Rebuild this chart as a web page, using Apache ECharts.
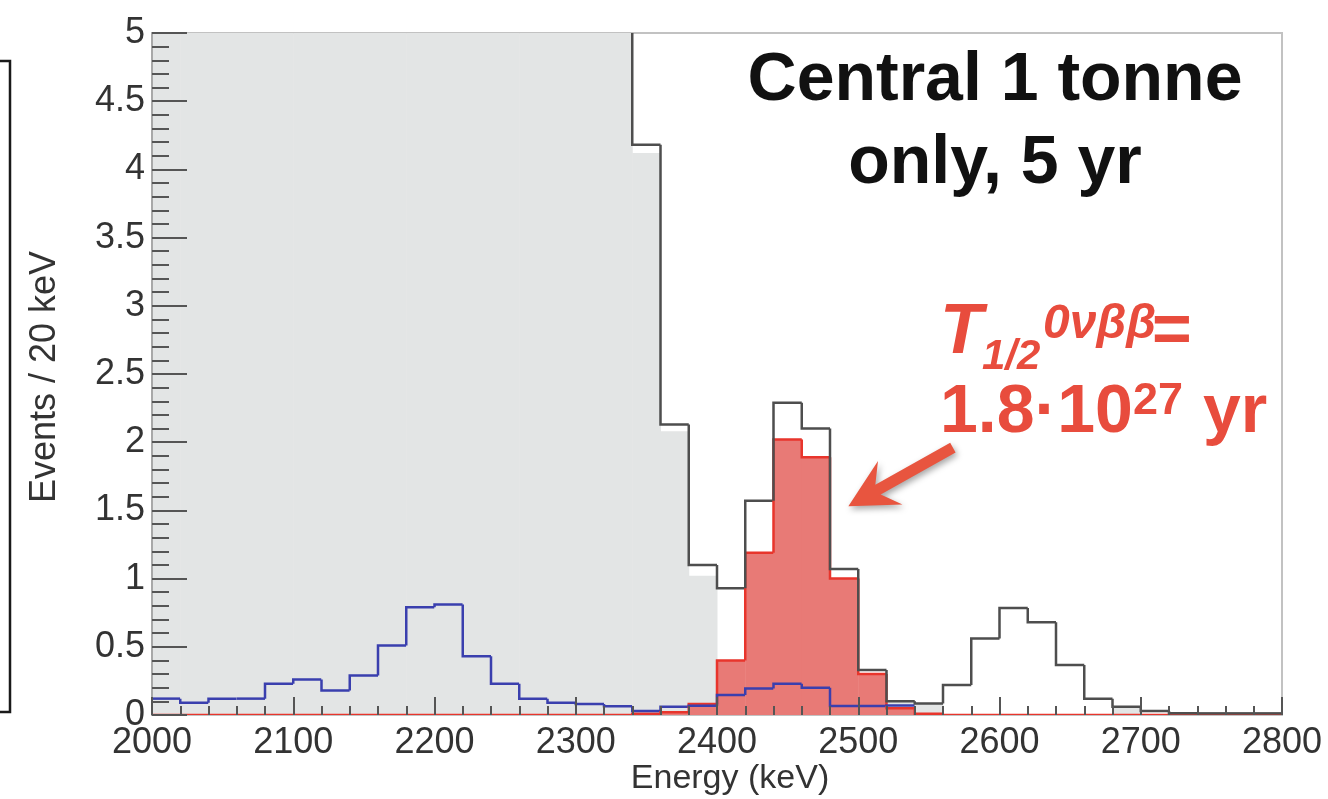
<!DOCTYPE html>
<html>
<head>
<meta charset="utf-8">
<script src="https://cdn.jsdelivr.net/npm/echarts@6/dist/echarts.min.js"></script>
<style>
  html, body { margin: 0; padding: 0; background: #fff; }
  #chart { width: 1328px; height: 799px; background: #fff; }
</style>
</head>
<body>
<div id="chart"></div>
<script>
// Left edges of the 20 keV energy bins (keV); the last bin closes at 2800.
const binEdges = [2000, 2020, 2040, 2060, 2080, 2100, 2120, 2140, 2160, 2180,
                  2200, 2220, 2240, 2260, 2280, 2300, 2320, 2340, 2360, 2380,
                  2400, 2420, 2440, 2460, 2480, 2500, 2520, 2540, 2560, 2580,
                  2600, 2620, 2640, 2660, 2680, 2700, 2720, 2740, 2760, 2780];
const binEnd = 2800;

// 2νββ background (grey fill); runs far off scale below 2340 keV
const twoNuBB = [58.0, 51.5, 45.6, 40.2, 35.3, 30.9, 26.9, 23.3, 20.1, 17.2,
                 14.6, 12.3, 10.3, 8.6, 7.1, 5.9, 5.2, 4.12, 2.08, 1.02,
                 0, 0, 0, 0, 0, 0, 0.095, 0.08, 0, 0,
                 0, 0, 0, 0, 0.055, 0, 0, 0, 0, 0];

// 0νββ signal for T1/2 = 1.8e27 yr (red fill)
const signal = [0, 0, 0, 0, 0, 0, 0, 0, 0, 0,
                0, 0, 0, 0, 0, 0, 0, 0.01, 0.02, 0.08,
                0.40, 1.19, 2.02, 1.89, 1.00, 0.30, 0.05, 0.01, 0, 0,
                0, 0, 0, 0, 0, 0, 0, 0, 0, 0];

// Other background component (blue outline), ends at 2540 keV
const otherBkg = [0.12, 0.09, 0.12, 0.12, 0.23, 0.26, 0.18, 0.29, 0.51, 0.79,
                  0.81, 0.43, 0.23, 0.12, 0.09, 0.08, 0.065, 0.03, 0.06, 0.068,
                  0.146, 0.195, 0.23, 0.20, 0.066, 0.066, 0.07, null, null, null,
                  null, null, null, null, null, null, null, null, null, null];

// Sum of all components (dark outline)
const total = [58.1, 51.6, 45.7, 40.3, 35.5, 31.2, 27.1, 23.6, 20.6, 18.0,
               15.4, 12.7, 10.5, 8.7, 7.2, 6.0, 5.3, 4.18, 2.13, 1.10,
               0.93, 1.57, 2.29, 2.10, 1.07, 0.33, 0.10, 0.085, 0.22, 0.56,
               0.785, 0.68, 0.366, 0.12, 0.06, 0.03, 0.012, 0.012, 0.012, 0.012];

const yTicks = { min: 0, max: 5, step: 0.5 };
const xTicks = { min: 2000, max: 2800, step: 100 };

// Arrow from the label down to the signal peak, in (keV, events)
const arrowTail = [2567, 1.96];
const arrowTip = [2493, 1.53];

const FONT = "'Liberation Sans', Arial, Helvetica, sans-serif";
const RED = '#e84c3d';

const rightEdge = i => (i + 1 < binEdges.length ? binEdges[i + 1] : binEnd);
const binRows = binEdges.map((e, i) => [e, rightEdge(i), twoNuBB[i], signal[i]]);

// Filled bin, cut at the top of the plotting area
function fillRect(api, i, value, color, top) {
  if (!(value > 0)) return null;
  const pBase = api.coord([binEdges[i], 0]);
  const pTop = api.coord([rightEdge(i), value]);
  const y = Math.max(pTop[1], top);
  return {
    type: 'rect',
    shape: { x: pBase[0], y: y, width: pTop[0] - pBase[0] + 0.5, height: pBase[1] - y },
    style: { fill: color }
  };
}

// Outline of one bin: riser on the left edge from the previous bin, then the top
function stepSegment(api, values, i, color) {
  const v = values[i];
  if (v === null || v === undefined) return null;
  const prev = i > 0 ? values[i - 1] : null;
  const pts = [];
  if (prev !== null && prev !== undefined) pts.push(api.coord([binEdges[i], prev]));
  pts.push(api.coord([binEdges[i], v]), api.coord([rightEdge(i), v]));
  return {
    type: 'polyline',
    shape: { points: pts },
    style: { stroke: color, lineWidth: 2.5, fill: null, lineJoin: 'miter', lineCap: 'butt' }
  };
}

// Block arrow with a swept-back head, from tail to tip (pixels)
function arrowShape(tail, tip) {
  const dx = tip[0] - tail[0], dy = tip[1] - tail[1];
  const len = Math.hypot(dx, dy);
  const ux = dx / len, uy = dy / len;
  const nx = -uy, ny = ux;
  const shaftHalf = 5.5, headLen = 48, headHalf = 25, neck = 34;
  const P = (along, side) => [tip[0] - ux * along + nx * side, tip[1] - uy * along + ny * side];
  return [
    [tail[0] + nx * shaftHalf, tail[1] + ny * shaftHalf],
    P(neck, shaftHalf),
    P(headLen, headHalf),
    [tip[0], tip[1]],
    P(headLen, -headHalf),
    P(neck, -shaftHalf),
    [tail[0] - nx * shaftHalf, tail[1] - ny * shaftHalf]
  ];
}

function txt(text, x, y, size, opts) {
  return {
    type: 'text', x: x, y: y, z: 50,
    style: Object.assign({
      text: text, fontSize: size, fontFamily: FONT, fontWeight: 'bold',
      fill: '#111', align: 'left', verticalAlign: 'middle'
    }, opts || {})
  };
}

const chart = echarts.init(document.getElementById('chart'), null, { renderer: 'canvas' });

chart.setOption({
  animation: false,
  grid: {
    left: 152, right: 46, top: 33, bottom: 84,
    show: true, borderColor: '#c2c2c2', borderWidth: 2, backgroundColor: 'transparent'
  },
  xAxis: {
    type: 'value',
    min: xTicks.min, max: xTicks.max, interval: xTicks.step,
    z: 10,
    axisLine: { show: false },
    splitLine: { show: false },
    axisTick: { inside: true, length: 18, lineStyle: { color: '#555', width: 2 } },
    minorTick: { show: true, splitNumber: 5, length: 9, lineStyle: { color: '#555', width: 2 } },
    axisLabel: { fontSize: 36, color: '#333', margin: 10, fontFamily: FONT, formatter: v => String(v) }
  },
  yAxis: {
    type: 'value',
    min: yTicks.min, max: yTicks.max, interval: yTicks.step,
    z: 10,
    axisLine: { show: true, lineStyle: { color: '#a8a8a8', width: 2 } },
    splitLine: { show: false },
    axisTick: { inside: true, length: 35, lineStyle: { color: '#555', width: 2 } },
    minorTick: { show: true, splitNumber: 5, length: 17, lineStyle: { color: '#555', width: 2 } },
    axisLabel: { fontSize: 36, color: '#333', margin: 7, fontFamily: FONT }
  },
  series: [
    {
      // all four histograms, bin by bin: fills first, outlines over them
      name: 'histograms', type: 'custom', z: 3, clip: true,
      data: binRows,
      encode: { x: [0, 1], y: [2, 3] },
      renderItem: function (params, api) {
        const i = params.dataIndex;
        const top = params.coordSys.y;
        return {
          type: 'group',
          children: [
            fillRect(api, i, twoNuBB[i], '#e3e5e5', top),
            fillRect(api, i, signal[i], '#e87a76', top),
            stepSegment(api, signal, i, '#e8352c'),
            stepSegment(api, otherBkg, i, '#3a3fae'),
            stepSegment(api, total, i, '#4e4e4e')
          ].filter(Boolean)
        };
      }
    },
    {
      name: 'arrow', type: 'custom', z: 20, clip: false,
      data: [[arrowTail[0], arrowTail[1], arrowTip[0], arrowTip[1]]],
      encode: { x: [0, 2], y: [1, 3] },
      renderItem: function (params, api) {
        const tail = api.coord([api.value(0), api.value(1)]);
        const tip = api.coord([api.value(2), api.value(3)]);
        return {
          type: 'polygon',
          shape: { points: arrowShape(tail, tip) },
          style: {
            fill: '#e8553f',
            shadowBlur: 6, shadowColor: 'rgba(0,0,0,0.35)', shadowOffsetX: 2, shadowOffsetY: 3
          }
        };
      }
    }
  ],
  graphic: [
    // axis titles
    txt('Energy (keV)', 730, 779, 34, { fontWeight: 'normal', fill: '#333', align: 'center' }),
    {
      type: 'text', x: 45, y: 377, rotation: Math.PI / 2, z: 50,
      style: { text: 'Events / 20 keV', fontSize: 36, fontFamily: FONT, fill: '#333', align: 'center', verticalAlign: 'middle' }
    },
    // axis title of the panel above, cut by the top edge
    txt('Energy (keV)', 714, -1, 34, { fontWeight: 'normal', fill: '#333', align: 'center', verticalAlign: 'bottom' }),
    // frame edge of the neighbouring panel on the left
    {
      type: 'polyline', z: 50,
      shape: { points: [[0, 61], [10, 61], [10, 712], [0, 712]] },
      style: { stroke: '#1a1a1a', lineWidth: 2.5, fill: null }
    },
    txt('Central 1 tonne', 995, 81, 68, { align: 'center' }),
    txt('only, 5 yr', 995, 164, 68, { align: 'center' }),
    txt('T', 940, 334, 70, { fill: RED, fontStyle: 'italic' }),
    txt('1/2', 982, 357, 42, { fill: RED, fontStyle: 'italic' }),
    txt('0νββ', 1043, 325, 48, { fill: RED, fontStyle: 'italic' }),
    txt('=', 1152, 333, 68, { fill: RED }),
    txt('1.8·10', 940, 413, 68, { fill: RED }),
    txt('27', 1133, 402, 45, { fill: RED }),
    txt('yr', 1203, 413, 68, { fill: RED })
  ]
});
</script>
</body>
</html>
